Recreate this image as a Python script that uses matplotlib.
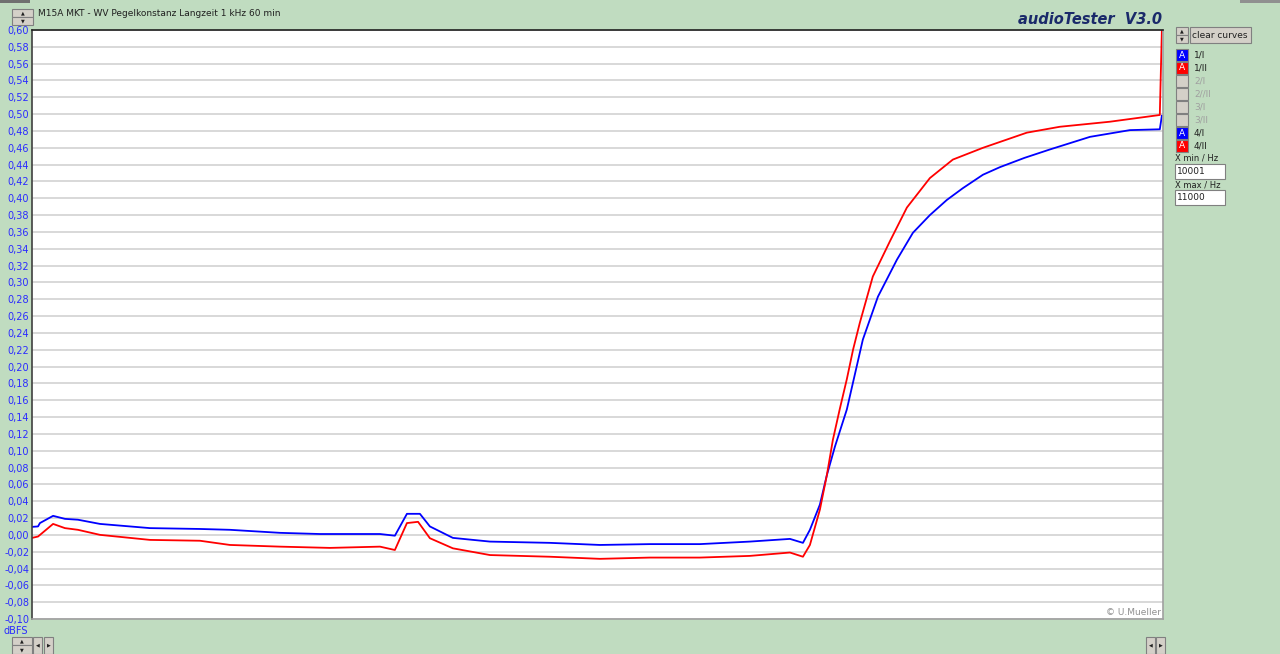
import matplotlib.pyplot as plt
from matplotlib.patches import Rectangle
from matplotlib.ticker import FuncFormatter

# time in minutes (60 min run), level in dBFS
t_blue = [0.0, 0.32, 0.42, 1.12, 1.75, 2.44, 3.61, 6.27, 8.92, 10.51, 13.17, 15.29, 18.48,
          19.27, 19.91, 20.60, 21.13, 22.35, 24.32, 27.50, 30.16, 32.81, 35.47, 38.12,
          40.25, 40.94, 41.31, 41.84, 42.21, 42.64, 43.27, 44.12, 44.92, 45.93, 46.78,
          47.68, 48.58, 49.43, 50.50, 51.40, 52.70, 54.05, 56.18, 58.30, 59.89, 60.0]
lvl_blue = [0.0095, 0.010, 0.014, 0.0226, 0.019, 0.018, 0.013, 0.008, 0.007, 0.006, 0.0024,
            0.001, 0.001, -0.001, 0.025, 0.025, 0.010, -0.0036, -0.008, -0.0095, -0.012,
            -0.011, -0.011, -0.008, -0.0048, -0.0095, 0.006, 0.036, 0.071, 0.105, 0.149,
            0.232, 0.283, 0.327, 0.359, 0.380, 0.398, 0.412, 0.428, 0.437, 0.448, 0.458,
            0.473, 0.481, 0.482, 0.498]

t_red = [0.0, 0.32, 1.12, 1.75, 2.44, 3.61, 6.27, 8.92, 10.51, 13.17, 15.82, 18.48, 19.27,
         19.91, 20.50, 21.13, 22.35, 24.32, 27.50, 30.16, 32.81, 35.47, 38.12, 40.25, 40.94,
         41.31, 41.84, 42.21, 42.53, 42.90, 43.27, 43.60, 43.96, 44.65, 45.56, 46.46, 47.68,
         48.90, 50.50, 52.83, 54.58, 57.24, 59.89, 60.0]
lvl_red = [-0.0036, -0.002, 0.013, 0.008, 0.006, 0.0, -0.006, -0.007, -0.012, -0.014, -0.0155,
           -0.014, -0.018, 0.014, 0.0155, -0.004, -0.016, -0.024, -0.026, -0.0285, -0.027,
           -0.027, -0.025, -0.021, -0.026, -0.012, 0.030, 0.071, 0.113, 0.150, 0.185, 0.220,
           0.252, 0.307, 0.349, 0.389, 0.424, 0.446, 0.460, 0.478, 0.485, 0.491, 0.499, 0.60]

yticks = [i / 100 for i in range(-10, 61, 2)]

W, H = 1280, 654
bg = '#C0DCC0'
btn = '#D4D0C8'
tick_blue = '#2B2BFF'

fig = plt.figure(figsize=(W / 100, H / 100), dpi=100, facecolor=bg)
ax = fig.add_axes([32 / W, 1 - 619 / H, 1131 / W, 589 / H])
ax.set_facecolor('white')

ax.plot(t_blue, lvl_blue, color='#0000FF', lw=1.3)
ax.plot(t_red, lvl_red, color='#FF0000', lw=1.3)

ax.set_xlim(0, 60.06)
ax.set_ylim(-0.10, 0.60)
ax.set_yticks(yticks)
ax.yaxis.set_major_formatter(FuncFormatter(lambda v, p: f'{v:.2f}'.replace('.', ',')))
ax.tick_params(axis='y', length=0, pad=2, labelsize=7, labelcolor=tick_blue)
ax.set_xticks([])
ax.grid(axis='y', color='#D8D8D8', lw=1.4)
ax.set_axisbelow(True)
ax.spines['top'].set_color('#202020')
ax.spines['left'].set_color('#404040')
ax.spines['right'].set_color('#A0A0A0')
ax.spines['bottom'].set_color('#A0A0A0')
for s in ax.spines.values():
    s.set_linewidth(1.2)

ax.text(0.9985, 0.004, '© U.Mueller', transform=ax.transAxes, ha='right', va='bottom',
        fontsize=6.5, color='#909090')


def px(x, y):
    return x / W, 1 - y / H


def box(x0, y0, x1, y1, fc=btn, ec='#808080', lw=0.8):
    fig.add_artist(Rectangle(px(x0, y1), (x1 - x0) / W, (y1 - y0) / H,
                             transform=fig.transFigure, fc=fc, ec=ec, lw=lw))


def label(x, y, s, **kw):
    kw.setdefault('fontsize', 6.5)
    fig.text(*px(x, y), s, va='center', **kw)


def arrow(x, y, s):
    fig.text(*px(x, y), s, ha='center', va='center', fontsize=3.5, color='#202020')


# texts
label(38, 14, 'M15A MKT - WV Pegelkonstanz Langzeit 1 kHz 60 min', color='#202020')
fig.text(*px(1162, 20), 'audioTester  V3.0', ha='right', va='center', fontsize=10.5,
         color='#1A2A6A', style='italic', fontweight='bold')
label(4, 631, 'dBFS', color=tick_blue, fontsize=7)

# top bars
box(0, 0, 30, 3, fc='#707070', ec='none')
box(1240, 0, 1280, 3, fc='#909090', ec='none')

# spinners and buttons
for x0, y0, x1, y1 in [(12, 9, 33, 17), (12, 17, 33, 25), (1176, 27, 1188, 35), (1176, 35, 1188, 43),
                       (12, 637, 32, 645), (12, 645, 32, 654), (33, 637, 42, 654), (44, 637, 53, 654),
                       (1146, 637, 1155, 654), (1156, 637, 1165, 654)]:
    box(x0, y0, x1, y1)
for x, y0, y1 in [(22.5, 13, 21), (1182, 31, 39), (22, 641, 649.5)]:
    arrow(x, y0, '▲')
    arrow(x, y1, '▼')
for x, s in [(37.5, '◀'), (48.5, '▶'), (1150.5, '◀'), (1160.5, '▶')]:
    arrow(x, 645, s)
box(1190, 27, 1251, 43)
fig.text(*px(1220, 35), 'clear curves', ha='center', va='center', fontsize=6.5, color='#202020')

# curve selectors
rows = ['1/I', '1/II', '2/I', '2//II', '3/I', '3/II', '4/I', '4/II']
fills = ['#0000FF', '#FF0000', btn, btn, btn, btn, '#0000FF', '#FF0000']
for i, (name, fc) in enumerate(zip(rows, fills)):
    yc = 55 + 13 * i
    box(1176, yc - 6, 1188, yc + 6, fc=fc, ec='#808080')
    if fc != btn:
        fig.text(*px(1182, yc), 'A', ha='center', va='center', fontsize=6.5, color='white')
    label(1194, yc, name, color='#202020' if fc != btn else '#A0A0A0')

# x range boxes
label(1175, 158, 'X min / Hz', color='#202020', fontsize=6)
box(1175, 164, 1225, 179, fc='white', ec='#808080')
label(1177, 171.5, '10001', color='#202020')
label(1175, 185, 'X max / Hz', color='#202020', fontsize=6)
box(1175, 190, 1225, 205, fc='white', ec='#808080')
label(1177, 197.5, '11000', color='#202020')

fig.savefig('out.png', dpi=100, facecolor=bg)
